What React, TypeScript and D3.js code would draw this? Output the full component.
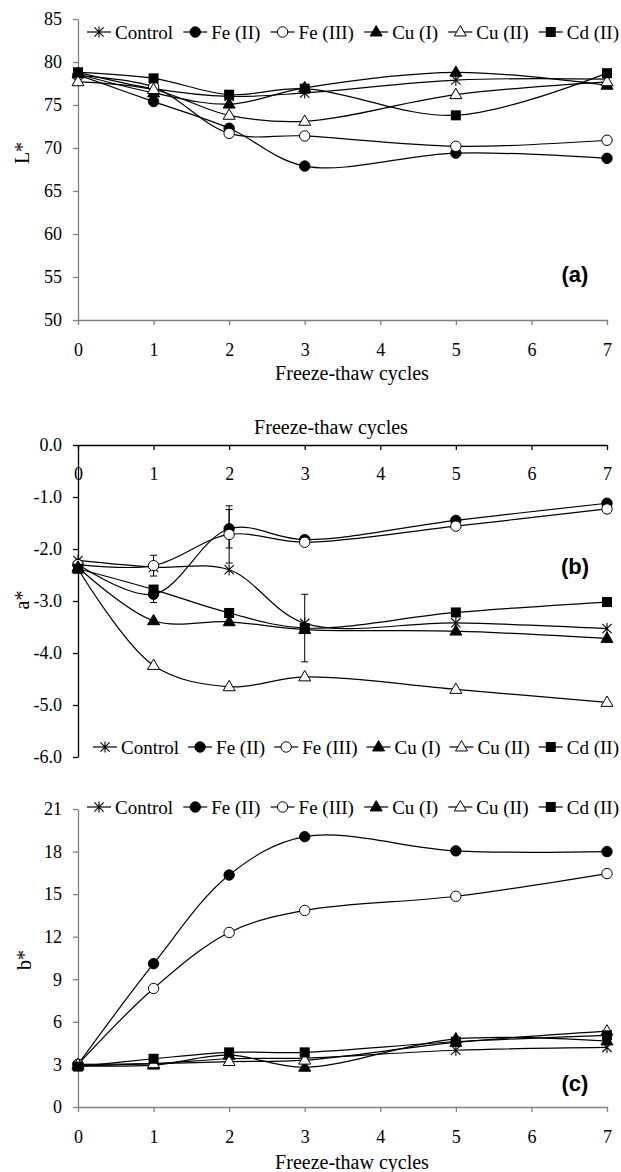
import React, { useEffect, useRef } from "react";
import * as d3 from "d3";

// freeze-thaw cycles sampled
const cycles = [0, 1, 2, 3, 5, 7];
const seriesNames = ["Control", "Fe (II)", "Fe (III)", "Cu (I)", "Cu (II)", "Cd (II)"];
const markerTypes = ["star", "dot", "circle", "tri", "triOpen", "square"];

// L* values
const lControl = [78.8, 76.9, 76.0, 76.4, 77.9, 78.0];
const lFe2 = [78.5, 75.4, 72.3, 67.9, 69.4, 68.8];
const lFe3 = [78.4, 77.1, 71.7, 71.4, 70.2, 70.9];
const lCu1 = [78.6, 76.4, 75.1, 77.0, 78.8, 77.3];
const lCu2 = [77.7, 76.8, 73.8, 73.1, 76.2, 77.7];
const lCd2 = [78.8, 78.1, 76.2, 76.9, 73.8, 78.7];

// a* values
const aControl = [-2.22, -2.35, -2.4, -3.43, -3.42, -3.53];
const aFe2 = [-2.3, -2.87, -1.61, -1.82, -1.45, -1.12];
const aFe3 = [-2.3, -2.32, -1.72, -1.87, -1.56, -1.23];
const aCu1 = [-2.35, -3.38, -3.4, -3.55, -3.58, -3.72];
const aCu2 = [-2.38, -4.24, -4.65, -4.46, -4.7, -4.95];
const aCd2 = [-2.38, -2.78, -3.23, -3.52, -3.22, -3.02];

// a* error bars (only a few visible)
const aErrFe2 = [0, 0.16, 0.37, 0, 0, 0];
const aErrFe3 = [0, 0.2, 0.55, 0, 0, 0];
const aErrCd2 = [0, 0, 0, 0.65, 0, 0];

// b* values
const bControl = [2.9, 3.05, 3.4, 3.45, 4.0, 4.2];
const bFe2 = [3.0, 10.1, 16.35, 19.05, 18.05, 18.0];
const bFe3 = [3.0, 8.35, 12.3, 13.85, 14.85, 16.45];
const bCu1 = [2.9, 2.95, 3.65, 2.8, 4.8, 4.65];
const bCu2 = [3.0, 3.05, 3.2, 3.3, 4.55, 5.35];
const bCd2 = [2.85, 3.4, 3.85, 3.85, 4.6, 5.05];

const xTicks = [0, 1, 2, 3, 4, 5, 6, 7];
const lTicks = [50, 55, 60, 65, 70, 75, 80, 85];
const aTicks = [-6, -5, -4, -3, -2, -1, 0];
const bTicks = [0, 3, 6, 9, 12, 15, 18, 21];

const serif = '"Liberation Serif", "Times New Roman", Times, serif';

function drawMarker(g: any, type: string, x: number, y: number) {
    const s = 4.6;
    if (type === "star") {
        g.append("path")
            .attr("d", `M${x - s},${y - s}L${x + s},${y + s}M${x - s},${y + s}L${x + s},${y - s}M${x},${y - s - 1}L${x},${y + s + 1}`)
            .attr("stroke", "#000")
            .attr("stroke-width", 1.1)
            .attr("fill", "none");
    } else if (type === "dot" || type === "circle") {
        g.append("circle")
            .attr("cx", x)
            .attr("cy", y)
            .attr("r", 5.2)
            .attr("fill", type === "dot" ? "#000" : "#fff")
            .attr("stroke", "#000")
            .attr("stroke-width", 1);
    } else if (type === "tri" || type === "triOpen") {
        g.append("path")
            .attr("d", d3.symbol(d3.symbolTriangle, 62)())
            .attr("transform", `translate(${x},${y + 0.5})`)
            .attr("fill", type === "tri" ? "#000" : "#fff")
            .attr("stroke", "#000")
            .attr("stroke-width", 1);
    } else {
        g.append("rect")
            .attr("x", x - 5)
            .attr("y", y - 5)
            .attr("width", 10)
            .attr("height", 10)
            .attr("fill", "#000");
    }
}

function App() {
    const svgRef = useRef(null);

    useEffect(() => {
        const svg = d3.select(svgRef.current);
        svg.selectAll("*").remove();

        const x = d3.scaleLinear().domain([0, 7]).range([78, 607]);

        const panels = [
            {
                values: [lControl, lFe2, lFe3, lCu1, lCu2, lCd2],
                errors: null,
                domain: [50, 85], range: [320, 19], ticks: lTicks, fmt: (v: number) => String(v),
                axisY: 320, axisColor: "#808080", tickLabelY: 23, titleX: 352, titleY: 380,
                yTitle: "L*", yTitleX: 22, yTitleY: 153,
                legendY: 32, legendX: 87, label: "(a)", labelY: 282,
            },
            {
                values: [aControl, aFe2, aFe3, aCu1, aCu2, aCd2],
                errors: [null, aErrFe2, aErrFe3, null, null, aErrCd2],
                domain: [-6, 0], range: [757, 445], ticks: aTicks, fmt: (v: number) => v.toFixed(1),
                axisY: 445, axisColor: "#000", tickLabelY: 22, titleX: 331, titleY: 434,
                yTitle: "a*", yTitleX: 22, yTitleY: 600,
                legendY: 747, legendX: 93, label: "(b)", labelY: 574,
            },
            {
                values: [bControl, bFe2, bFe3, bCu1, bCu2, bCd2],
                errors: null,
                domain: [0, 21], range: [1107, 809], ticks: bTicks, fmt: (v: number) => String(v),
                axisY: 1107, axisColor: "#808080", tickLabelY: 23, titleX: 352, titleY: 1169,
                yTitle: "b*", yTitleX: 24, yTitleY: 960,
                legendY: 807, legendX: 87, label: "(c)", labelY: 1091,
            },
        ];

        panels.forEach((p) => {
            const y = d3.scaleLinear().domain(p.domain).range(p.range);
            const g = svg.append("g");

            // y axis
            const yAxis = g.append("g")
                .attr("transform", "translate(78,0)")
                .call(d3.axisLeft(y).tickValues(p.ticks).tickFormat(p.fmt as any).tickSize(5).tickSizeOuter(0).tickPadding(11));
            yAxis.select(".domain").attr("stroke", p.axisColor).attr("stroke-width", 1.3);
            yAxis.selectAll(".tick line").attr("stroke", p.axisColor).attr("stroke-width", 1.3);
            yAxis.selectAll("text").style("font-family", serif).style("font-size", "18px").attr("fill", "#000");

            // x axis
            const xAxis = g.append("g")
                .attr("transform", `translate(0,${p.axisY})`)
                .call(d3.axisBottom(x).tickValues(xTicks).tickFormat(d3.format("d") as any).tickSize(5).tickSizeOuter(0).tickPadding(p.tickLabelY - 5));
            xAxis.select(".domain").attr("stroke", p.axisColor).attr("stroke-width", 1.3);
            xAxis.selectAll(".tick line").attr("stroke", p.axisColor).attr("stroke-width", 1.3);
            xAxis.selectAll("text").style("font-family", serif).style("font-size", "18px").attr("fill", "#000");

            g.append("text")
                .attr("x", p.titleX)
                .attr("y", p.titleY)
                .attr("text-anchor", "middle")
                .style("font-family", serif)
                .style("font-size", "20px")
                .text("Freeze-thaw cycles");

            g.append("text")
                .attr("transform", `translate(${p.yTitleX},${p.yTitleY}) rotate(-90)`)
                .attr("dy", "0.35em")
                .attr("text-anchor", "middle")
                .style("font-family", serif)
                .style("font-size", "20px")
                .text(p.yTitle);

            g.append("text")
                .attr("x", 575)
                .attr("y", p.labelY)
                .attr("text-anchor", "middle")
                .style("font-family", '"Liberation Sans", Arial, sans-serif')
                .style("font-weight", "bold")
                .style("font-size", "22px")
                .text(p.label);

            const line = d3.line<number>()
                .x((d, i) => x(cycles[i]))
                .y((d) => y(d))
                .curve(d3.curveCatmullRom.alpha(0.5));

            // error bars
            if (p.errors) {
                p.errors.forEach((err, si) => {
                    if (!err) return;
                    err.forEach((e, i) => {
                        if (!e) return;
                        const v = p.values[si][i];
                        const cx = x(cycles[i]);
                        g.append("path")
                            .attr("d", `M${cx},${y(v + e)}L${cx},${y(v - e)}M${cx - 3.5},${y(v + e)}L${cx + 3.5},${y(v + e)}M${cx - 3.5},${y(v - e)}L${cx + 3.5},${y(v - e)}`)
                            .attr("stroke", "#000")
                            .attr("stroke-width", 1)
                            .attr("fill", "none");
                    });
                });
            }

            p.values.forEach((vals, si) => {
                const sg = g.append("g");
                sg.append("path")
                    .attr("d", line(vals))
                    .attr("fill", "none")
                    .attr("stroke", "#000")
                    .attr("stroke-width", 1.2);
                vals.forEach((v, i) => drawMarker(sg, markerTypes[si], x(cycles[i]), y(v)));
            });

            // legend
            const lg = g.append("g");
            const widths: number[] = [];
            const texts = seriesNames.map((name) => {
                const t = lg.append("text")
                    .attr("y", p.legendY)
                    .attr("dy", "0.35em")
                    .style("font-family", serif)
                    .style("font-size", "19px")
                    .text(name);
                widths.push((t.node() as SVGTextElement).getComputedTextLength());
                return t;
            });
            const symW = 24;
            const total = d3.sum(widths) + seriesNames.length * (symW + 4);
            const gap = (619 - p.legendX - total) / (seriesNames.length - 1);
            let cx = p.legendX;
            seriesNames.forEach((name, i) => {
                lg.append("line")
                    .attr("x1", cx).attr("x2", cx + symW)
                    .attr("y1", p.legendY).attr("y2", p.legendY)
                    .attr("stroke", "#000").attr("stroke-width", 1.2);
                drawMarker(lg, markerTypes[i], cx + symW / 2, p.legendY);
                texts[i].attr("x", cx + symW + 4);
                cx += symW + 4 + widths[i] + gap;
            });
        });
    }, []);

    return (
        <svg
            ref={svgRef}
            width={621}
            height={1172}
            style={{ position: "absolute", left: 0, top: 0, background: "#fff" }}
        />
    );
}

export default App;
